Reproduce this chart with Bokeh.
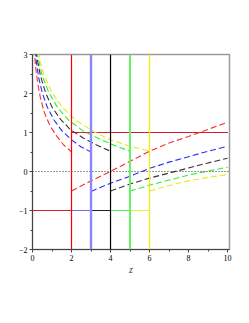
from bokeh.plotting import figure
from bokeh.models import Range1d, FixedTicker, Span
from bokeh.embed import file_html
from bokeh.resources import INLINE

# parameter values (vertical lines) and colours
a_vals = [2, 3, 4, 5, 6]
colors = ["red", "blue", "black", "green", "yellow"]
dash_colors = ["#ff2a2a", "#2a2aff", "#333333", "#33ee33", "#e8e820"]
vline_colors = ["#ff0000", "#8888ff", "#000000", "#66f066", "#f0f000"]
hline_colors = ["#d41c34", "#6a6aff", "#222222", "#55ee55", "#eeee30"]
vline_widths = [1.2, 2.4, 1.2, 2.0, 1.2]

# upper (decreasing) branches
red_up_z = [0.09, 0.15, 0.25, 0.4, 0.6, 0.9, 1.25, 1.6, 2.0]
red_up_y = [3.14, 2.72, 2.32, 1.9, 1.52, 1.17, 0.9, 0.68, 0.5]
blue_up_z = [0.14, 0.2, 0.32, 0.5, 0.75, 1.1, 1.5, 2.0, 2.5, 3.0]
blue_up_y = [3.1, 2.8, 2.4, 2.02, 1.66, 1.32, 1.05, 0.81, 0.63, 0.5]
black_up_z = [0.19, 0.25, 0.41, 0.67, 1.0, 1.45, 1.95, 2.6, 3.2, 4.0]
black_up_y = [3.09, 2.86, 2.45, 2.02, 1.65, 1.33, 1.07, 0.86, 0.7, 0.52]
green_up_z = [0.24, 0.32, 0.5, 0.84, 1.27, 1.86, 2.63, 3.5, 4.2, 5.0]
green_up_y = [3.08, 2.84, 2.46, 2.02, 1.65, 1.31, 1.03, 0.82, 0.67, 0.52]
yellow_up_z = [0.29, 0.38, 0.58, 1.0, 1.52, 2.2, 3.15, 4.05, 5.0, 6.0]
yellow_up_y = [3.07, 2.85, 2.49, 2.02, 1.65, 1.32, 1.02, 0.8, 0.65, 0.52]

# lower (increasing) branches
red_lo_z = [2, 3, 4, 5, 6, 7, 8, 9, 10]
red_lo_y = [-0.5, -0.24, 0.0, 0.26, 0.52, 0.73, 0.9, 1.08, 1.26]
blue_lo_z = [3, 4, 5, 6, 7, 8, 9, 10]
blue_lo_y = [-0.51, -0.3, -0.12, 0.08, 0.24, 0.38, 0.52, 0.65]
black_lo_z = [4, 5, 6, 7, 8, 9, 10]
black_lo_y = [-0.5, -0.32, -0.17, -0.04, 0.09, 0.22, 0.34]
green_lo_z = [5, 6, 7, 8, 9, 10]
green_lo_y = [-0.5, -0.35, -0.22, -0.09, 0.01, 0.11]
yellow_lo_z = [6, 7, 8, 9, 10]
yellow_lo_y = [-0.5, -0.36, -0.24, -0.15, -0.08]

upper = [(red_up_z, red_up_y), (blue_up_z, blue_up_y), (black_up_z, black_up_y),
         (green_up_z, green_up_y), (yellow_up_z, yellow_up_y)]
lower = [(red_lo_z, red_lo_y), (blue_lo_z, blue_lo_y), (black_lo_z, black_lo_y),
         (green_lo_z, green_lo_y), (yellow_lo_z, yellow_lo_y)]

# horizontal levels and axis
level_hi = 1
level_lo = -1
z_max = 10
x_ticks = [0, 2, 4, 6, 8, 10]
x_minor = [1, 3, 5, 7, 9]
y_ticks = [-2, -1, 0, 1, 2, 3]
y_minor = [-1.5, -0.5, 0.5, 1.5, 2.5]

p = figure(width=241, height=308, x_range=Range1d(0, 10.1), y_range=Range1d(-2, 3),
           output_backend="svg", toolbar_location=None,
           min_border_left=32, min_border_right=12, min_border_top=54, min_border_bottom=59)
p.grid.visible = False
p.background_fill_color = "white"
p.border_fill_color = "white"
p.outline_line_color = "#9a9a9a"
p.outline_line_width = 1.5

for ax, tk, mn in ((p.xaxis, x_ticks, x_minor), (p.yaxis, y_ticks, y_minor)):
    ax.ticker = FixedTicker(ticks=tk, minor_ticks=mn)
    ax.major_tick_out = 3
    ax.major_tick_in = 0
    ax.minor_tick_out = 2
    ax.minor_tick_in = 0
    ax.major_label_text_font = "Liberation Serif"
    ax.major_label_text_font_size = "8px"
    ax.major_label_text_color = "black"
    ax.axis_line_color = "#444444"
    ax.major_tick_line_color = "#444444"
    ax.minor_tick_line_color = "#444444"
    ax.major_label_standoff = 2
p.xaxis.axis_label = "z"
p.xaxis.axis_label_text_font = "Liberation Serif"
p.xaxis.axis_label_text_font_style = "italic"
p.xaxis.axis_label_text_font_size = "10px"
p.xaxis.axis_label_standoff = 0

# dotted zero line
p.add_layout(Span(location=0, dimension="width", line_color="#333333",
                  line_dash="1 2", line_width=1.2))

# horizontal segments at y=-1 (0..a) and y=1 (a..10), drawn from largest a to smallest
for i in reversed(range(len(a_vals))):
    a = a_vals[i]
    p.segment(x0=[0], y0=[level_lo], x1=[a], y1=[level_lo], line_color=hline_colors[i],
              line_width=1.1)
    p.segment(x0=[a], y0=[level_hi], x1=[z_max], y1=[level_hi], line_color=hline_colors[i],
              line_width=1.1)

# vertical lines
for i, a in enumerate(a_vals):
    p.add_layout(Span(location=a, dimension="height", line_color=vline_colors[i],
                      line_width=vline_widths[i]))

# dashed curves
for i in range(len(a_vals)):
    zu, yu = upper[i]
    zl, yl = lower[i]
    p.line(zu, yu, line_color=dash_colors[i], line_width=1.1, line_dash="6 3")
    p.line(zl, yl, line_color=dash_colors[i], line_width=1.1, line_dash="6 3")

open("out.html", "w").write(file_html(p, INLINE))
